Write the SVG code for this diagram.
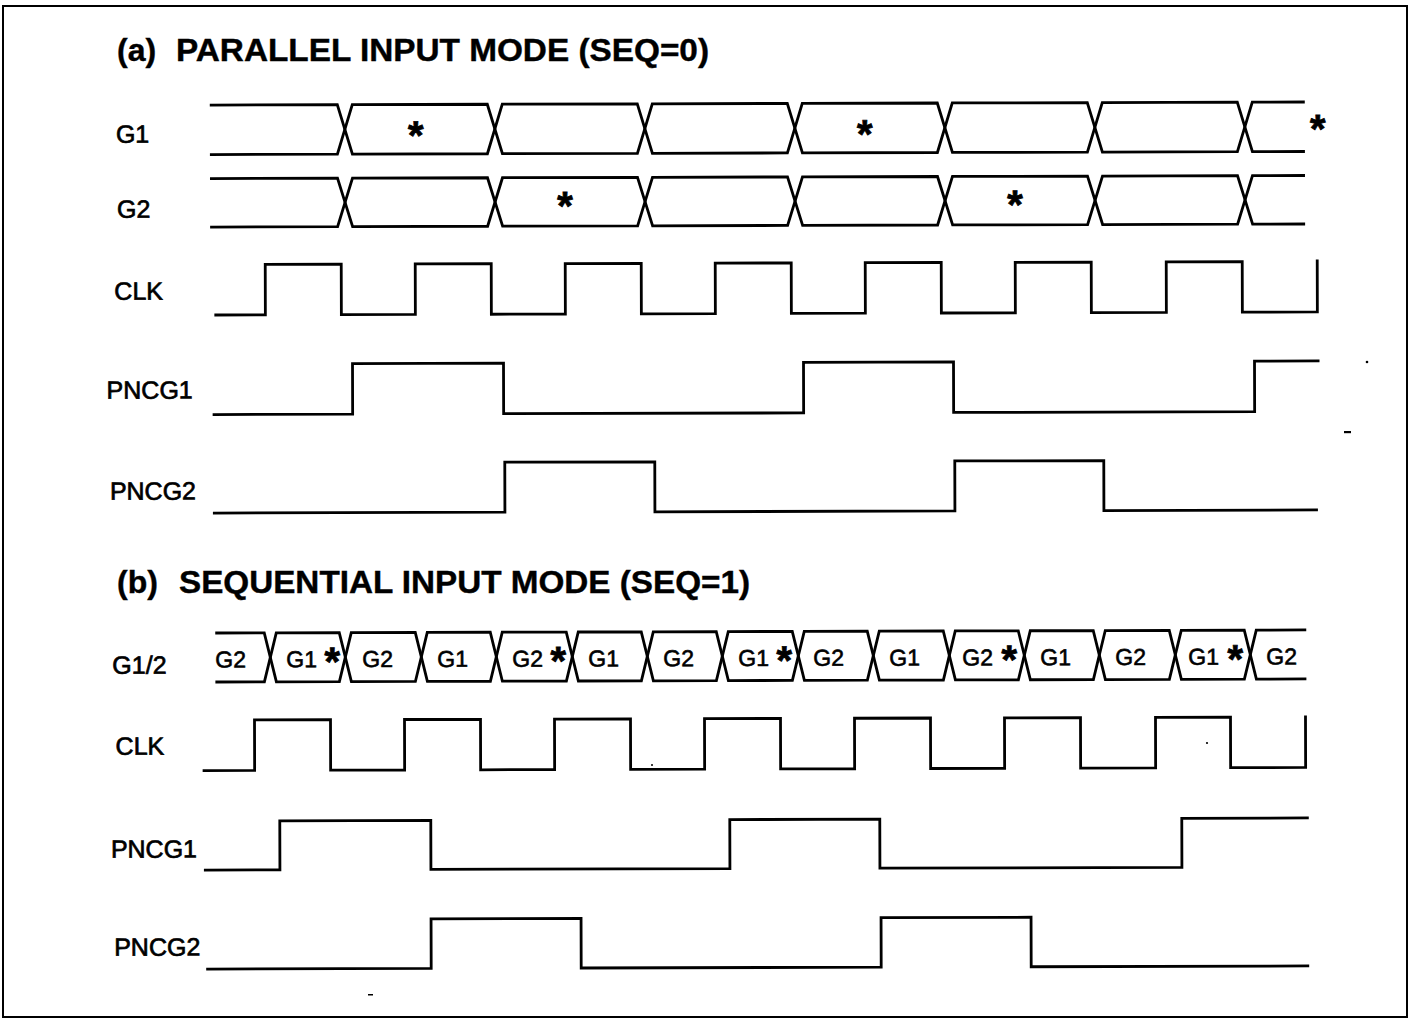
<svg xmlns="http://www.w3.org/2000/svg" width="1410" height="1019" viewBox="0 0 1410 1019">
<style>
.w{fill:none;stroke:#000;stroke-width:2.8;stroke-linejoin:miter}
.t{font-family:"Liberation Sans",Arial,sans-serif;fill:#000}
.title{font-size:32px;font-weight:bold;stroke:#000;stroke-width:0.4}
.lbl{font-size:25px;stroke:#000;stroke-width:0.7}
.seg{font-size:23px;stroke:#000;stroke-width:0.6}
.star{font-size:40px;font-weight:bold;text-anchor:middle;stroke:#000;stroke-width:0.8}
</style>
<rect width="1410" height="1019" fill="#fff"/>
<rect id="frame" x="3" y="6" width="1404" height="1011" fill="none" stroke="#000" stroke-width="2"/>

<g id="titles" class="t title">
  <text x="117" y="61">(a)<tspan x="176" textLength="533" lengthAdjust="spacingAndGlyphs">PARALLEL INPUT MODE (SEQ=0)</tspan></text>
  <text x="117" y="593">(b)<tspan x="179" textLength="571" lengthAdjust="spacingAndGlyphs">SEQUENTIAL INPUT MODE (SEQ=1)</tspan></text>
</g>

<g transform="rotate(-0.16 760 540)">
<g id="labels" class="t lbl">
  <text id="lbl-a-g1" x="117" y="141">G1</text>
  <text id="lbl-a-g2" x="118" y="216">G2</text>
  <text id="lbl-a-clk" x="115" y="298">CLK</text>
  <text id="lbl-a-pncg1" x="107" y="397">PNCG1</text>
  <text id="lbl-a-pncg2" x="110" y="498">PNCG2</text>
  <text id="lbl-b-g12" x="112" y="672">G1/2</text>
  <text id="lbl-b-clk" x="115" y="753">CLK</text>
  <text id="lbl-b-pncg1" x="110" y="856">PNCG1</text>
  <text id="lbl-b-pncg2" x="113" y="954">PNCG2</text>
</g>

<g id="connectors">
  <g id="a-g1">
    <path class="w" d="M211 103.5H338.5L353.5 153H488.5L503.5 103.5H638.5L653.5 153H788.5L803.5 103.5H938.5L953.5 153H1088.5L1103.5 103.5H1238.5L1253.5 153H1306"/>
    <path class="w" d="M211 153H338.5L353.5 103.5H488.5L503.5 153H638.5L653.5 103.5H788.5L803.5 153H938.5L953.5 103.5H1088.5L1103.5 153H1238.5L1253.5 103.5H1306"/>
    <g class="t star">
      <text x="417" y="148">*</text>
      <text x="866" y="148">*</text>
      <text x="1319" y="144">*</text>
    </g>
  </g>
  <g id="a-g2">
    <path class="w" d="M211 177H338.5L353.5 225.5H488.5L503.5 177H638.5L653.5 225.5H788.5L803.5 177H938.5L953.5 225.5H1088.5L1103.5 177H1238.5L1253.5 225.5H1306"/>
    <path class="w" d="M211 225.5H338.5L353.5 177H488.5L503.5 225.5H638.5L653.5 177H788.5L803.5 225.5H938.5L953.5 177H1088.5L1103.5 225.5H1238.5L1253.5 177H1306"/>
    <g class="t star">
      <text x="566" y="219">*</text>
      <text x="1016" y="219">*</text>
    </g>
  </g>
  <path id="a-clk" class="w" d="M215 313.5H266V263H342V313.5H416V263H492V313.5H566V263H642V313.5H716V263H792V313.5H866V263H942V313.5H1016V263H1092V313.5H1167V263H1243V313.5H1318V261"/>
  <path id="a-pncg1" class="w" d="M213 413H353V362.5H504V413H804V362.5H954V413H1255V362.5H1320"/>
  <path id="a-pncg2" class="w" d="M213 511.5H505V461.5H655V511.5H955V461.5H1104V511.5H1318"/>

  <g id="b-g12">
    <path class="w" d="M215 631.5H264L276 680.5H339L351 631.5H415L427 680.5H490L502 631.5H566L578 680.5H641L653 631.5H716L728 680.5H792L804 631.5H867L879 680.5H943L955 631.5H1018L1030 680.5H1093L1105 631.5H1169L1181 680.5H1244L1256 631.5H1306"/>
    <path class="w" d="M215 680.5H264L276 631.5H339L351 680.5H415L427 631.5H490L502 680.5H566L578 631.5H641L653 680.5H716L728 631.5H792L804 680.5H867L879 631.5H943L955 680.5H1018L1030 631.5H1093L1105 680.5H1169L1181 631.5H1244L1256 680.5H1306"/>
    <g class="t seg">
      <text x="215" y="666">G2</text>
      <text x="286" y="666">G1</text>
      <text x="362" y="666">G2</text>
      <text x="437" y="666">G1</text>
      <text x="512" y="666">G2</text>
      <text x="588" y="666">G1</text>
      <text x="663" y="666">G2</text>
      <text x="738" y="666">G1</text>
      <text x="813" y="666">G2</text>
      <text x="889" y="666">G1</text>
      <text x="962" y="666">G2</text>
      <text x="1040" y="666">G1</text>
      <text x="1115" y="666">G2</text>
      <text x="1188" y="666">G1</text>
      <text x="1266" y="666">G2</text>
    </g>
    <g class="t star">
      <text x="332" y="674">*</text>
      <text x="558" y="674">*</text>
      <text x="784" y="674">*</text>
      <text x="1009" y="674">*</text>
      <text x="1235" y="674">*</text>
    </g>
  </g>
  <path id="b-clk" class="w" d="M202 769H254V718.5H330V769H404V718.5H480V769H554V718.5H630V769H704V718.5H780V769H854V718.5H930V769H1004V718.5H1080V769H1155V718.5H1230V769H1305V717"/>
  <path id="b-pncg1" class="w" d="M203 868.5H279V819.5H430V868.5H729V819.5H879V868.5H1181V819.5H1308"/>
  <path id="b-pncg2" class="w" d="M205 967.5H430V918H580V967.5H880V918H1030V967.5H1308"/>
</g>
</g>

<g id="specks" fill="#000">
  <circle cx="1367" cy="362" r="1.3"/>
  <rect x="1344" y="431" width="7" height="2.2"/>
  <circle cx="1207" cy="743" r="1.1"/>
  <circle cx="652" cy="765" r="1"/>
  <rect x="368" y="994" width="5" height="1.5"/>
</g>
</svg>
